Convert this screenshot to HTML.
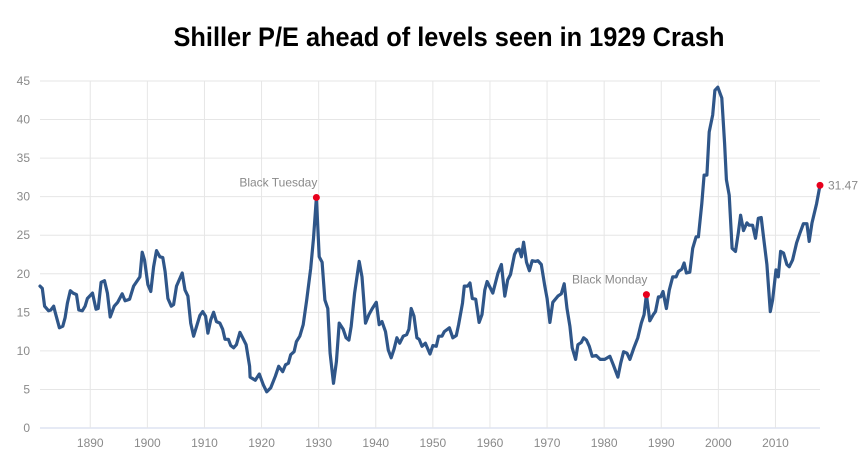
<!DOCTYPE html>
<html><head><meta charset="utf-8"><style>
html,body{margin:0;padding:0;background:#fff;}
svg{display:block;font-family:"Liberation Sans",sans-serif;}
</style></head><body>
<svg id="chart" width="859" height="468" viewBox="0 0 859 468" xmlns="http://www.w3.org/2000/svg">
<text x="449" y="46" text-anchor="middle" font-size="27" font-weight="bold" fill="#000" textLength="551" lengthAdjust="spacingAndGlyphs">Shiller P/E ahead of levels seen in 1929 Crash</text>
<g id="grid"></g><g id="axes"></g><g id="series"></g><g id="marks"></g>
</svg>
<script>
const years = [1881.2,1881.6,1882,1882.7,1883.1,1883.6,1883.9,1884.6,1885.2,1885.6,1886,1886.5,1887,1887.6,1888,1888.6,1889.1,1889.5,1890.4,1891,1891.4,1891.9,1892.5,1893,1893.5,1894.2,1894.8,1895.6,1896.1,1896.9,1897.6,1898.7,1899.1,1899.5,1900.1,1900.6,1901.1,1901.6,1902.2,1902.7,1903.1,1903.6,1904.2,1904.6,1905.1,1906.1,1906.6,1907.1,1907.6,1908.1,1909.2,1909.7,1910.2,1910.6,1911.1,1911.6,1912.1,1912.7,1913.2,1913.6,1914.2,1914.6,1915.1,1915.6,1916.2,1916.7,1917.3,1917.9,1918,1918.9,1919.6,1920.3,1920.9,1921.6,1922.4,1923,1923.7,1924.2,1924.7,1925.1,1925.7,1926.1,1926.7,1927.3,1927.9,1928.6,1929.1,1929.6,1930.1,1930.6,1931.1,1931.6,1932,1932.6,1933.1,1933.6,1934.3,1934.8,1935.3,1935.7,1936.3,1937.1,1937.6,1938.2,1938.8,1939.4,1940.1,1940.6,1941.1,1941.7,1942.2,1942.7,1943.2,1943.7,1944.2,1944.8,1945.4,1945.8,1946.2,1946.7,1947.2,1947.6,1948.1,1948.7,1949.5,1950,1950.6,1951,1951.6,1952,1952.9,1953.5,1954.1,1954.5,1955.2,1955.5,1956.1,1956.5,1956.9,1957.5,1958.1,1958.6,1959.1,1959.5,1960.5,1961.4,1962,1962.6,1963.1,1963.6,1964.3,1964.7,1965.1,1965.5,1965.9,1966.4,1966.9,1967.4,1968,1968.4,1969,1969.6,1970,1970.5,1971,1971.9,1972.5,1973,1973.5,1974,1974.4,1975,1975.4,1976,1976.4,1976.9,1977.4,1977.9,1978.6,1979.3,1980.1,1981,1981.6,1982.4,1982.9,1983.4,1984,1984.5,1985.2,1985.9,1986.5,1987,1987.4,1988,1988.6,1989,1989.5,1989.9,1990.3,1990.9,1991.4,1992,1992.6,1993,1993.6,1994,1994.4,1995,1995.5,1996.1,1996.5,1997.1,1997.5,1998,1998.4,1999,1999.4,1999.9,2000.6,2001.1,2001.4,2001.9,2002.4,2003,2003.5,2003.9,2004.4,2005,2005.4,2006,2006.5,2007,2007.5,2007.9,2008.5,2009.1,2009.5,2010.1,2010.5,2010.9,2011.4,2012,2012.4,2013,2013.7,2014.3,2014.9,2015.5,2015.9,2016.4,2017.2,2017.8];
const peValues = [18.4,18.1,15.8,15.2,15.3,15.8,14.9,13.0,13.2,14.3,16.2,17.8,17.5,17.3,15.3,15.2,15.8,16.8,17.5,15.4,15.5,18.9,19.1,17.5,14.4,15.8,16.3,17.4,16.5,16.7,18.4,19.6,22.8,21.8,18.6,17.7,20.9,23.0,22.2,22.1,20.3,16.8,15.8,16.0,18.4,20.1,17.9,17.1,13.6,11.9,14.6,15.1,14.5,12.3,14.0,15.0,13.8,13.6,12.8,11.5,11.5,10.7,10.4,10.8,12.4,11.7,10.8,8.0,6.6,6.2,7.0,5.6,4.7,5.2,6.7,8.0,7.3,8.2,8.4,9.5,9.9,11.2,11.9,13.4,16.6,20.7,24.6,29.9,22.2,21.5,16.6,15.5,9.7,5.8,8.6,13.6,12.8,11.7,11.4,13.2,17.5,21.6,19.6,13.6,14.7,15.5,16.3,13.4,13.8,12.5,10.1,9.1,10.2,11.7,11.0,11.9,12.1,12.8,15.5,14.5,11.7,11.5,10.6,11.0,9.6,10.7,10.6,11.9,11.9,12.5,13.0,11.7,12.0,13.4,16.2,18.4,18.4,18.8,16.8,16.7,13.7,14.7,17.9,19.0,17.5,20.1,21.2,17.1,19.2,19.9,22.5,23.1,23.2,22.2,24.1,21.5,20.4,21.7,21.6,21.7,21.2,18.4,16.8,13.7,16.3,17.1,17.4,18.7,15.5,13.2,10.4,8.9,10.8,11.1,11.7,11.4,10.6,9.3,9.4,8.9,8.9,9.3,8.2,6.6,8.4,9.9,9.7,8.9,10.4,11.7,13.6,14.7,17.3,13.9,14.7,15.1,17.0,17.0,17.7,15.5,17.9,19.6,19.6,20.3,20.6,21.4,20.1,20.2,23.3,24.8,24.8,29.1,32.8,32.8,38.4,40.6,43.8,44.2,42.8,36.9,32.2,30.2,23.3,22.9,25.3,27.6,25.6,26.6,26.3,26.3,24.6,27.2,27.3,24.8,21.2,15.1,16.6,20.5,19.6,22.9,22.7,21.2,20.9,21.8,24.0,25.3,26.5,26.5,24.2,26.6,29.1,31.47];
const yTicks = [0,5,10,15,20,25,30,35,40,45];
const xTicks = [1890,1900,1910,1920,1930,1940,1950,1960,1970,1980,1990,2000,2010];
const eventYears = [1929.6,1987.4];
const eventLabels = ["Black Tuesday","Black Monday"];
const lastLabel = "31.47";

const NS="http://www.w3.org/2000/svg";
const L=40,R=820,T=81,B=428;
const X0=1881.2,X1=2017.8;
function xs(v){return L+(v-X0)/(X1-X0)*(R-L);}
function ys(v){return B-v/45*(B-T);}
function mk(t,a,p,txt){const e=document.createElementNS(NS,t);for(const k in a)e.setAttribute(k,a[k]);if(txt!==undefined)e.textContent=txt;p.appendChild(e);return e;}
const grid=document.getElementById('grid'),axes=document.getElementById('axes'),ser=document.getElementById('series'),marks=document.getElementById('marks');
yTicks.forEach(v=>{
  const ln=mk('line',{x1:L,x2:R,y1:ys(v),y2:ys(v),stroke:v===0?'#ccd6eb':'#e6e6e6','stroke-width':1},grid);
  
  
  const t=mk('text',{x:30,y:ys(v)+4,'text-anchor':'end','font-size':12,fill:'#8a8a8a'},axes,String(v));
  
  
});
xTicks.forEach(v=>{
  const ln=mk('line',{x1:xs(v),x2:xs(v),y1:T,y2:B,stroke:'#e6e6e6','stroke-width':1},grid);
  
  
  const t=mk('text',{x:xs(v),y:447,'text-anchor':'middle','font-size':12,fill:'#8a8a8a'},axes,String(v));
  
  
});
let d='';
years.forEach((y,i)=>{d+=(i?'L':'M')+xs(y).toFixed(1)+','+ys(peValues[i]).toFixed(1);});
const path=mk('path',{d:d,fill:'none',stroke:'#2f5689','stroke-width':3.2,'stroke-linejoin':'round','stroke-linecap':'round'},ser);


function valAt(yr){let best=0,bd=1e9;years.forEach((y,i)=>{const dd=Math.abs(y-yr);if(dd<bd){bd=dd;best=i;}});return peValues[best];}
eventYears.forEach((yr,i)=>{
  const v=valAt(yr);
  const c=mk('circle',{cx:xs(yr),cy:ys(v),r:3.5,fill:'#e8001c'},marks);
  
  
  const t=mk('text',{x:xs(yr)+1,y:ys(v)-11,'text-anchor':'end','font-size':12,fill:'#8a8a8a'},marks,eventLabels[i]);
  
  
});
const lv=peValues[peValues.length-1],ly=years[years.length-1];
const lc=mk('circle',{cx:xs(ly),cy:ys(lv),r:3.5,fill:'#e8001c'},marks);


const lt=mk('text',{x:xs(ly)+8,y:ys(lv)+4,'font-size':12,fill:'#8a8a8a'},marks,lastLabel);


</script>
</body></html>
